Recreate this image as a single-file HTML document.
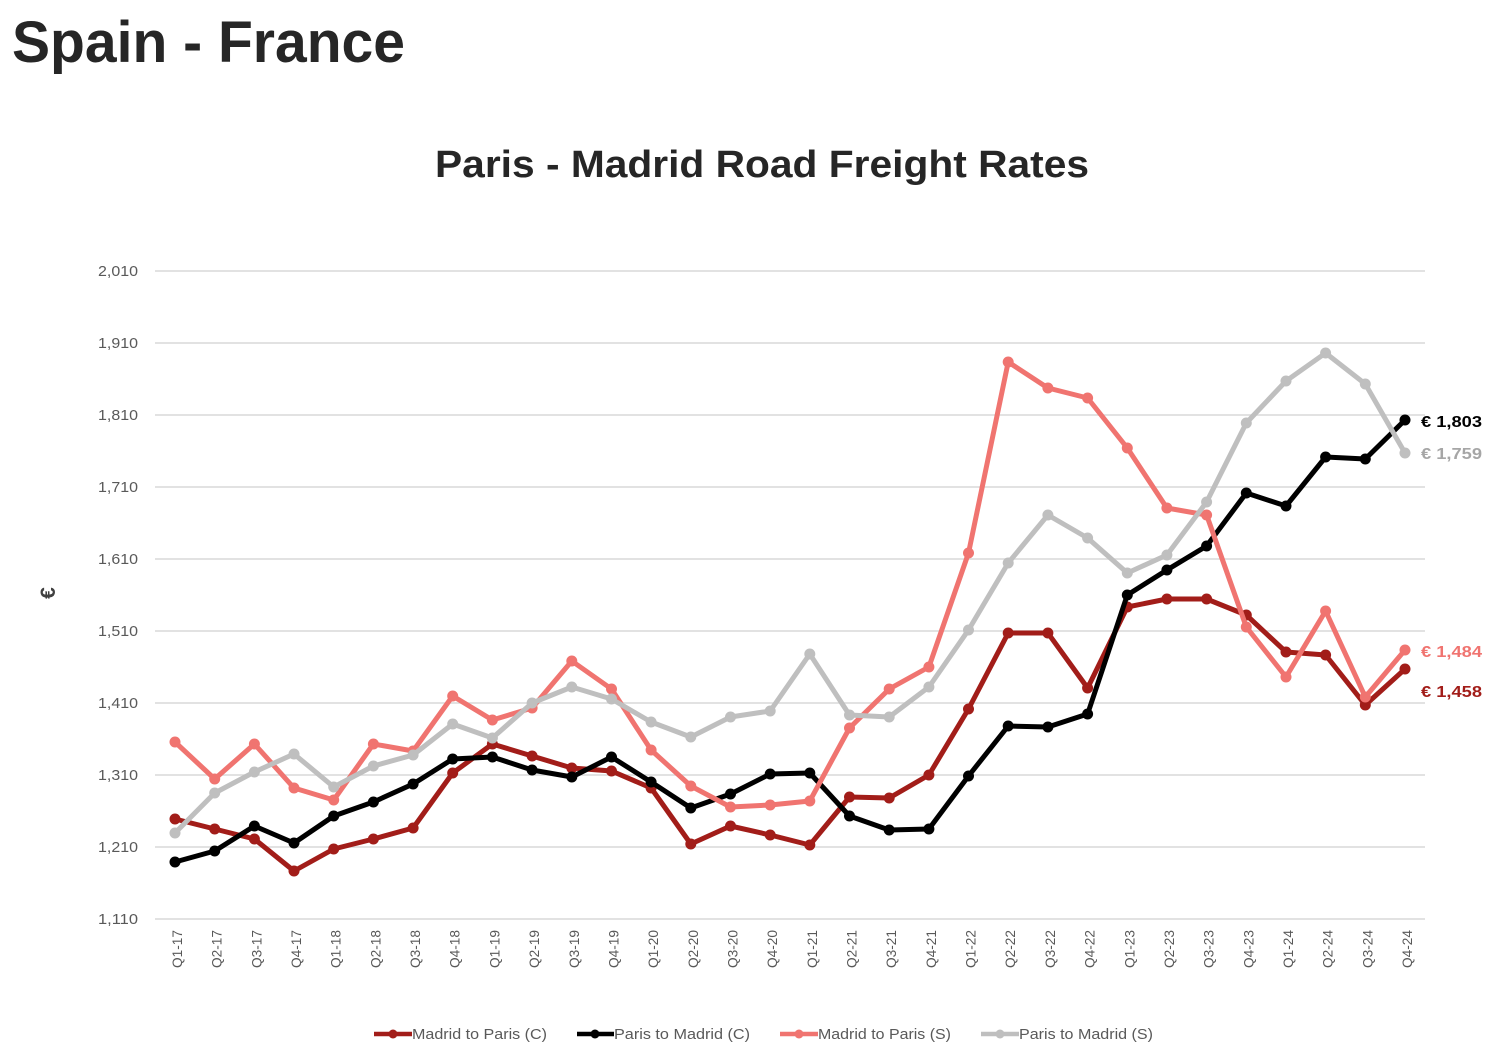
<!DOCTYPE html>
<html>
<head>
<meta charset="utf-8">
<style>
  html, body { margin:0; padding:0; background:#fff; }
  svg { display:block; }
  text { font-family: "Liberation Sans", sans-serif; }
</style>
</head>
<body>
<svg xmlns="http://www.w3.org/2000/svg" width="1486" height="1048" viewBox="0 0 1486 1048">
  <rect width="1486" height="1048" fill="#ffffff"/>
  <text x="12" y="62" font-size="58" font-weight="bold" fill="#262626" textLength="393" lengthAdjust="spacingAndGlyphs">Spain - France</text>
  <text x="435" y="177" font-size="38" font-weight="bold" fill="#262626" textLength="654" lengthAdjust="spacingAndGlyphs">Paris - Madrid Road Freight Rates</text>

  <!-- gridlines -->
  <g stroke="#d9d9d9" stroke-width="1.5">
    <line x1="155" y1="271" x2="1425" y2="271"/>
    <line x1="155" y1="343" x2="1425" y2="343"/>
    <line x1="155" y1="415" x2="1425" y2="415"/>
    <line x1="155" y1="487" x2="1425" y2="487"/>
    <line x1="155" y1="559" x2="1425" y2="559"/>
    <line x1="155" y1="631" x2="1425" y2="631"/>
    <line x1="155" y1="703" x2="1425" y2="703"/>
    <line x1="155" y1="775" x2="1425" y2="775"/>
    <line x1="155" y1="847" x2="1425" y2="847"/>
    <line x1="155" y1="919" x2="1425" y2="919"/>
  </g>

  <!-- y labels -->
  <g font-size="15" fill="#595959">
    <text x="98" y="276" textLength="40" lengthAdjust="spacingAndGlyphs">2,010</text>
    <text x="98" y="348" textLength="40" lengthAdjust="spacingAndGlyphs">1,910</text>
    <text x="98" y="420" textLength="40" lengthAdjust="spacingAndGlyphs">1,810</text>
    <text x="98" y="492" textLength="40" lengthAdjust="spacingAndGlyphs">1,710</text>
    <text x="98" y="564" textLength="40" lengthAdjust="spacingAndGlyphs">1,610</text>
    <text x="98" y="636" textLength="40" lengthAdjust="spacingAndGlyphs">1,510</text>
    <text x="98" y="708" textLength="40" lengthAdjust="spacingAndGlyphs">1,410</text>
    <text x="98" y="780" textLength="40" lengthAdjust="spacingAndGlyphs">1,310</text>
    <text x="98" y="852" textLength="40" lengthAdjust="spacingAndGlyphs">1,210</text>
    <text x="98" y="924" textLength="40" lengthAdjust="spacingAndGlyphs">1,110</text>
  </g>
  <text transform="translate(55,593) rotate(-90)" font-size="21" font-weight="bold" fill="#404040" text-anchor="middle">€</text>

  <g id="xlabels" font-size="14" fill="#595959"></g>
  <g id="series"></g>

  <!-- end labels -->
  <g font-size="16" font-weight="bold">
    <text x="1421" y="427" fill="#000000" textLength="61" lengthAdjust="spacingAndGlyphs">€ 1,803</text>
    <text x="1421" y="459" fill="#a6a6a6" textLength="61" lengthAdjust="spacingAndGlyphs">€ 1,759</text>
    <text x="1421" y="657" fill="#f07470" textLength="61" lengthAdjust="spacingAndGlyphs">€ 1,484</text>
    <text x="1421" y="697" fill="#a21d19" textLength="61" lengthAdjust="spacingAndGlyphs">€ 1,458</text>
  </g>

  <!-- legend -->
  <g stroke-width="4.5">
    <line x1="374" y1="1034" x2="412" y2="1034" stroke="#a21d19"/>
    <circle cx="393" cy="1034" r="4.5" fill="#a21d19" stroke="none"/>
    <line x1="577" y1="1034" x2="614" y2="1034" stroke="#000000"/>
    <circle cx="595" cy="1034" r="4.5" fill="#000000" stroke="none"/>
    <line x1="780" y1="1034" x2="818" y2="1034" stroke="#f07470"/>
    <circle cx="799" cy="1034" r="4.5" fill="#f07470" stroke="none"/>
    <line x1="981" y1="1034" x2="1019" y2="1034" stroke="#bfbfbf"/>
    <circle cx="1000" cy="1034" r="4.5" fill="#bfbfbf" stroke="none"/>
  </g>
  <g font-size="14.5" fill="#595959">
    <text x="412" y="1039" textLength="135" lengthAdjust="spacingAndGlyphs">Madrid to Paris (C)</text>
    <text x="614" y="1039" textLength="136" lengthAdjust="spacingAndGlyphs">Paris to Madrid (C)</text>
    <text x="818" y="1039" textLength="133" lengthAdjust="spacingAndGlyphs">Madrid to Paris (S)</text>
    <text x="1019" y="1039" textLength="134" lengthAdjust="spacingAndGlyphs">Paris to Madrid (S)</text>
  </g>
</svg>
<script>
(function(){
  var NS="http://www.w3.org/2000/svg";
  var labels=["Q1-17","Q2-17","Q3-17","Q4-17","Q1-18","Q2-18","Q3-18","Q4-18","Q1-19","Q2-19","Q3-19","Q4-19","Q1-20","Q2-20","Q3-20","Q4-20","Q1-21","Q2-21","Q3-21","Q4-21","Q1-22","Q2-22","Q3-22","Q4-22","Q1-23","Q2-23","Q3-23","Q4-23","Q1-24","Q2-24","Q3-24","Q4-24"];
  function X(i){return 175+i*(1405-175)/31;}
  var xg=document.getElementById("xlabels");
  labels.forEach(function(l,i){
    var t=document.createElementNS(NS,"text");
    var x=X(i)+7;
    t.setAttribute("transform","translate("+x.toFixed(1)+",968) rotate(-90)");
    t.setAttribute("textLength","38");
    t.setAttribute("lengthAdjust","spacingAndGlyphs");
    t.textContent=l;
    xg.appendChild(t);
  });
  var series=[
    {c:"#a21d19",d:[819,829,839,871,849,839,828,773,744,756,768,771,788,844,826,835,845,797,798,775,709,633,633,688,607,599,599,615,652,655,705,669]},
    {c:"#000000",d:[862,851,826,843,816,802,784,759,757,770,777,757,782,808,794,774,773,816,830,829,776,726,727,714,595,570,546,493,506,457,459,420]},
    {c:"#f07470",d:[742,779,744,788,800,744,751,696,720,708,661,689,750,786,807,805,801,728,689,667,553,362,388,398,448,508,515,627,677,611,697,650]},
    {c:"#bfbfbf",d:[833,793,772,754,787,766,755,724,738,703,687,699,722,737,717,711,654,715,717,687,630,563,515,538,573,555,502,423,381,353,384,453]}
  ];
  var sg=document.getElementById("series");
  series.forEach(function(s){
    var g=document.createElementNS(NS,"g");
    var p=document.createElementNS(NS,"polyline");
    p.setAttribute("points",s.d.map(function(y,i){return X(i).toFixed(1)+","+y;}).join(" "));
    p.setAttribute("fill","none");
    p.setAttribute("stroke",s.c);
    p.setAttribute("stroke-width","5");
    p.setAttribute("stroke-linejoin","round");
    p.setAttribute("stroke-linecap","round");
    g.appendChild(p);
    s.d.forEach(function(y,i){
      var c=document.createElementNS(NS,"circle");
      c.setAttribute("cx",X(i).toFixed(1));
      c.setAttribute("cy",y);
      c.setAttribute("r","5.5");
      c.setAttribute("fill",s.c);
      g.appendChild(c);
    });
    sg.appendChild(g);
  });
})();
</script>
</body>
</html>
